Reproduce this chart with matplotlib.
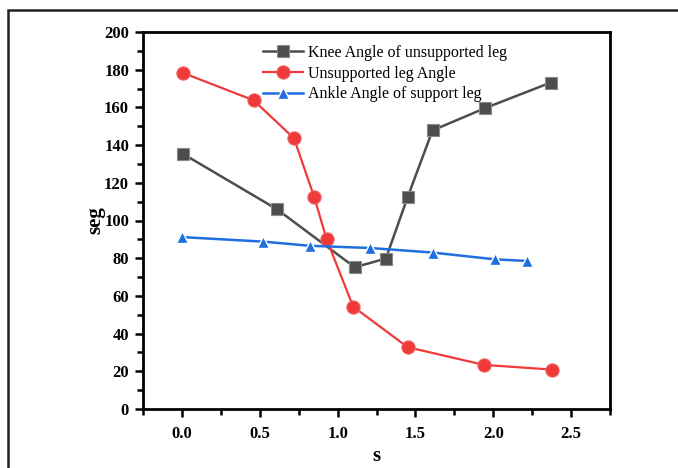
import matplotlib
matplotlib.use("Agg")
import matplotlib.pyplot as plt
from matplotlib.patches import Rectangle
from matplotlib.ticker import MultipleLocator

# Data
knee_x = [0.01, 0.61, 1.11, 1.31, 1.45, 1.61, 1.95, 2.37]
knee_y = [135.2, 106.0, 75.2, 79.8, 112.4, 147.8, 159.7, 173.2]

unsup_x = [0.01, 0.46, 0.72, 0.85, 0.93, 1.10, 1.45, 1.94, 2.38]
unsup_y = [178.2, 163.8, 143.6, 112.4, 90.0, 54.3, 32.8, 23.4, 20.9]

ankle_x = [0.00, 0.52, 0.82, 1.21, 1.61, 2.01, 2.22]
ankle_y = [91.2, 88.8, 86.6, 85.4, 83.0, 79.4, 78.5]

labels = ["Knee Angle of unsupported leg", "Unsupported leg Angle", "Ankle Angle of support leg"]
xticks = [0.0, 0.5, 1.0, 1.5, 2.0, 2.5]
yticks = list(range(0, 201, 20))

plt.rcParams['font.family'] = ['Liberation Serif', 'DejaVu Serif']

fig = plt.figure(figsize=(6.78, 4.68), dpi=100)
ax = fig.add_axes([143/678, 1-409/468, (610-143)/678, (409-32)/468])

ax.plot(knee_x, knee_y, color='#4d4d4d', lw=1.8, marker='s', ms=8,
        mfc='#4d4d4d', mec='#8a8a8a', mew=0.8, label=labels[0], zorder=3)
ax.plot(unsup_x, unsup_y, color='#f03a3a', lw=1.6, marker='o', ms=9.5,
        mfc='#f03a3a', mec='#f06060', mew=0.8, label=labels[1], zorder=3)
ax.plot(ankle_x, ankle_y, color='#1f6fe0', lw=1.8, marker='^', ms=8.5,
        mfc='#1f6fe0', mec='white', mew=1.0, label=labels[2], zorder=4)

ax.set_xlim(-0.25, 2.75)
ax.set_ylim(0, 200)
ax.set_xticks(xticks)
ax.set_xticklabels([f"{t:.1f}" for t in xticks])
ax.set_yticks(yticks)
ax.xaxis.set_minor_locator(MultipleLocator(0.25))
ax.yaxis.set_minor_locator(MultipleLocator(10))

for lab in ax.get_xticklabels() + ax.get_yticklabels():
    lab.set_fontweight('bold')
    lab.set_fontsize(12)

ax.tick_params(axis='both', which='major', direction='out', length=6, width=1.8, pad=4)
ax.tick_params(axis='both', which='minor', direction='out', length=4, width=1.8)
ax.tick_params(axis='x', which='major', pad=6)
ax.tick_params(top=False, right=False)
for s in ax.spines.values():
    s.set_linewidth(2)

ax.set_xlabel('s', fontsize=15, fontweight='bold', va='center')
ax.xaxis.set_label_coords(0.5, -(456 - 409) / 377)
ax.set_ylabel('seg', fontsize=15, fontweight='bold', labelpad=-1)

ax.legend(loc='upper left', bbox_to_anchor=(0.23, 1.0), frameon=False, fontsize=11.5,
          handlelength=2.5, handletextpad=0.3, labelspacing=0.3, borderaxespad=0.4)

fig.patches.append(Rectangle((8/678, -0.05), 1.1, 1 - 10/468 + 0.05, transform=fig.transFigure,
                             fill=False, edgecolor='#222222', lw=1.8, clip_on=False))

fig.savefig('out.png', dpi=100)
